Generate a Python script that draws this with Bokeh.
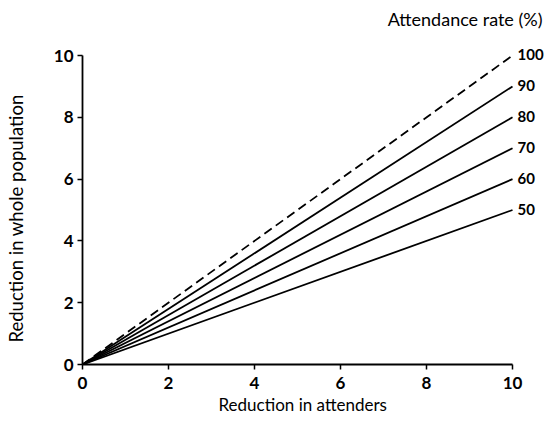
from bokeh.plotting import figure
from bokeh.models import ColumnDataSource, LabelSet, Label, FixedTicker, Range1d, Title
from bokeh.core.properties import value
from bokeh.embed import file_html
from bokeh.resources import INLINE

# Data
x_values = [0, 10]
rate_labels = ["50", "60", "70", "80", "90", "100"]
y_50 = [0, 5]
y_60 = [0, 6]
y_70 = [0, 7]
y_80 = [0, 8]
y_90 = [0, 9]
y_100 = [0, 10]
end_values = [5, 6, 7, 8, 9, 10]
ticks = [0, 2, 4, 6, 8, 10]

FONT = "Lato"

p = figure(width=545, height=417, output_backend="svg", toolbar_location=None,
           x_range=Range1d(0, 10.767), y_range=Range1d(0, 11.78),
           min_border_left=82, min_border_right=0, min_border_top=0, min_border_bottom=53)
p.outline_line_color = None
p.xgrid.visible = False
p.ygrid.visible = False
p.background_fill_color = "white"
p.border_fill_color = "white"

for ys in [y_50, y_60, y_70, y_80, y_90]:
    p.line(x_values, ys, line_color="black", line_width=1.8)
p.line(x_values, y_100, line_color="black", line_width=1.8, line_dash="9 5")

src = ColumnDataSource(dict(x=[10] * len(end_values), y=end_values, t=rate_labels))
p.add_layout(LabelSet(x="x", y="y", text="t", source=src, x_offset=5, y_offset=1,
                      text_font=value(FONT), text_font_style="bold", text_font_size="15px",
                      text_baseline="middle", text_align="left", text_color="black"))

p.add_layout(Label(x=10, y=10, x_offset=30, y_offset=37, text="Attendance rate (%)",
                   text_font=FONT, text_font_size="18px", text_align="right",
                   text_baseline="middle", text_color="black"))

for ax in [p.xaxis[0], p.yaxis[0]]:
    ax.ticker = FixedTicker(ticks=ticks)
    ax.bounds = (0, 10)
    ax.minor_tick_line_color = None
    ax.major_tick_in = 0
    ax.major_tick_out = 5
    ax.major_tick_line_width = 1.5
    ax.axis_line_width = 1.8
    ax.major_label_text_font = FONT
    ax.major_label_text_font_style = "bold"
    ax.major_label_text_font_size = "17px"
    ax.major_label_text_color = "black"

p.xaxis.major_label_standoff = 7
p.yaxis.major_label_standoff = 4
# blank spacer label to push the y title outward
p.yaxis.axis_label = " "
p.yaxis.axis_label_text_font_size = "18px"
p.yaxis.axis_label_standoff = 1

p.add_layout(Title(text="Reduction in attenders", align="left", offset=136, standoff=0,
                   text_font=FONT, text_font_style="normal", text_font_size="17px",
                   text_color="black"), "below")
p.add_layout(Title(text="Reduction in whole population", align="left", offset=22, standoff=0,
                   text_font=FONT, text_font_style="normal", text_font_size="18.5px",
                   text_color="black"), "left")

open("out.html", "w").write(file_html(p, INLINE))
